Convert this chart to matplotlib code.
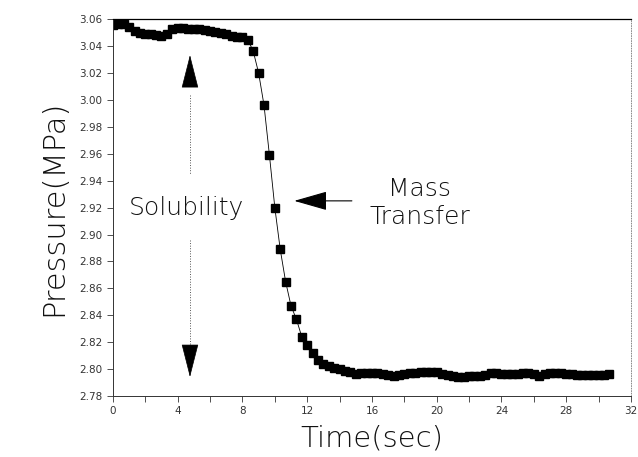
import matplotlib.pyplot as plt
import numpy as np

# sampling every 1/3 s
time_s = np.arange(93) / 3.0
pressure = [3.0555, 3.0565, 3.0565, 3.0540, 3.0510, 3.0500, 3.0493, 3.0490, 3.0485, 3.0478,
            3.0490, 3.0525, 3.0535, 3.0535, 3.0528, 3.0525, 3.0526, 3.0522, 3.0515, 3.0508,
            3.0500, 3.0490, 3.0474, 3.0470, 3.0466, 3.0448, 3.0362, 3.0200, 2.9960, 2.9590,
            2.9200, 2.8890, 2.8650, 2.8470, 2.8370, 2.8240, 2.8180, 2.8120, 2.8070, 2.8040,
            2.8025, 2.8008, 2.7998, 2.7988, 2.7978, 2.7965, 2.7968, 2.7972, 2.7970, 2.7968,
            2.7966, 2.7958, 2.7952, 2.7955, 2.7962, 2.7968, 2.7974, 2.7978, 2.7980, 2.7980,
            2.7975, 2.7966, 2.7955, 2.7946, 2.7940, 2.7942, 2.7946, 2.7945, 2.7952, 2.7958,
            2.7968, 2.7972, 2.7965, 2.7960, 2.7962, 2.7966, 2.7968, 2.7968, 2.7966, 2.7945,
            2.7966, 2.7968, 2.7968, 2.7968, 2.7966, 2.7962, 2.7955, 2.7953, 2.7953, 2.7954,
            2.7955, 2.7958, 2.7965]

x_ticks = np.arange(0, 33, 4)
y_ticks = np.arange(2.78, 3.0601, 0.02)

plt.rcParams['font.family'] = ['DejaVu Sans']
txt = '#111111'
thin = 200  # DejaVu Sans ExtraLight
fig = plt.figure(figsize=(6.38, 4.57), dpi=100)
ax = fig.add_axes([0.177, 0.1335, 0.812, 0.8245])

ax.plot(time_s, pressure, '-', color='k', lw=0.6, marker='s', ms=5.5, mec='k', mfc='k')

ax.set_xlim(0, 32)
ax.set_ylim(2.78, 3.06)
ax.set_xticks(x_ticks)
ax.set_xticks(np.arange(2, 32, 4), minor=True)
ax.set_yticks(y_ticks)
ax.set_yticklabels(['%.2f' % v for v in y_ticks])
ax.tick_params(axis='both', which='both', direction='out', length=4, width=0.6,
               labelsize=7.5, labelcolor='#333333', color='#333333')

for s in ['left', 'bottom']:
    ax.spines[s].set_linewidth(0.7)
    ax.spines[s].set_color('#333333')
ax.spines['top'].set_linestyle((0, (6, 1)))
ax.spines['top'].set_linewidth(0.9)
ax.spines['right'].set_linestyle((0, (1, 2)))
ax.spines['right'].set_linewidth(0.6)
ax.spines['right'].set_color('#777777')

ax.set_xlabel('Time(sec)', fontsize=21, color=txt, fontweight=thin, labelpad=6)
ax.set_ylabel('Pressure(MPa)', fontsize=22, color=txt, fontweight=thin, labelpad=8)

# solubility double arrow
hs = '-|>,head_length=1.1,head_width=0.28'
ax.annotate('', xy=(4.76, 3.0333), xytext=(4.76, 3.011),
            arrowprops=dict(arrowstyle=hs, color='k', lw=0.5, shrinkA=0, shrinkB=0,
                            mutation_scale=20))
ax.annotate('', xy=(4.76, 2.7941), xytext=(4.76, 2.8164),
            arrowprops=dict(arrowstyle=hs, color='k', lw=0.5, shrinkA=0, shrinkB=0,
                            mutation_scale=20))
ax.plot([4.76, 4.76], [3.004, 2.945], ls=':', color='#555555', lw=0.7)
ax.plot([4.76, 4.76], [2.896, 2.8164], ls=':', color='#555555', lw=0.7)
ax.text(4.54, 2.9197, 'Solubility', fontsize=18, color=txt, fontweight=thin,
        ha='center', va='center')

# mass transfer arrow
ax.annotate('', xy=(11.2, 2.925), xytext=(14.76, 2.925),
            arrowprops=dict(arrowstyle='-|>,head_length=1.05,head_width=0.3', color='k',
                            lw=0.8, shrinkA=0, shrinkB=0, mutation_scale=20))
ax.text(18.96, 2.934, 'Mass', fontsize=18, color=txt, fontweight=thin,
        ha='center', va='center')
ax.text(18.96, 2.913, 'Transfer', fontsize=18, color=txt, fontweight=thin,
        ha='center', va='center')

fig.savefig('out.png', dpi=100)
